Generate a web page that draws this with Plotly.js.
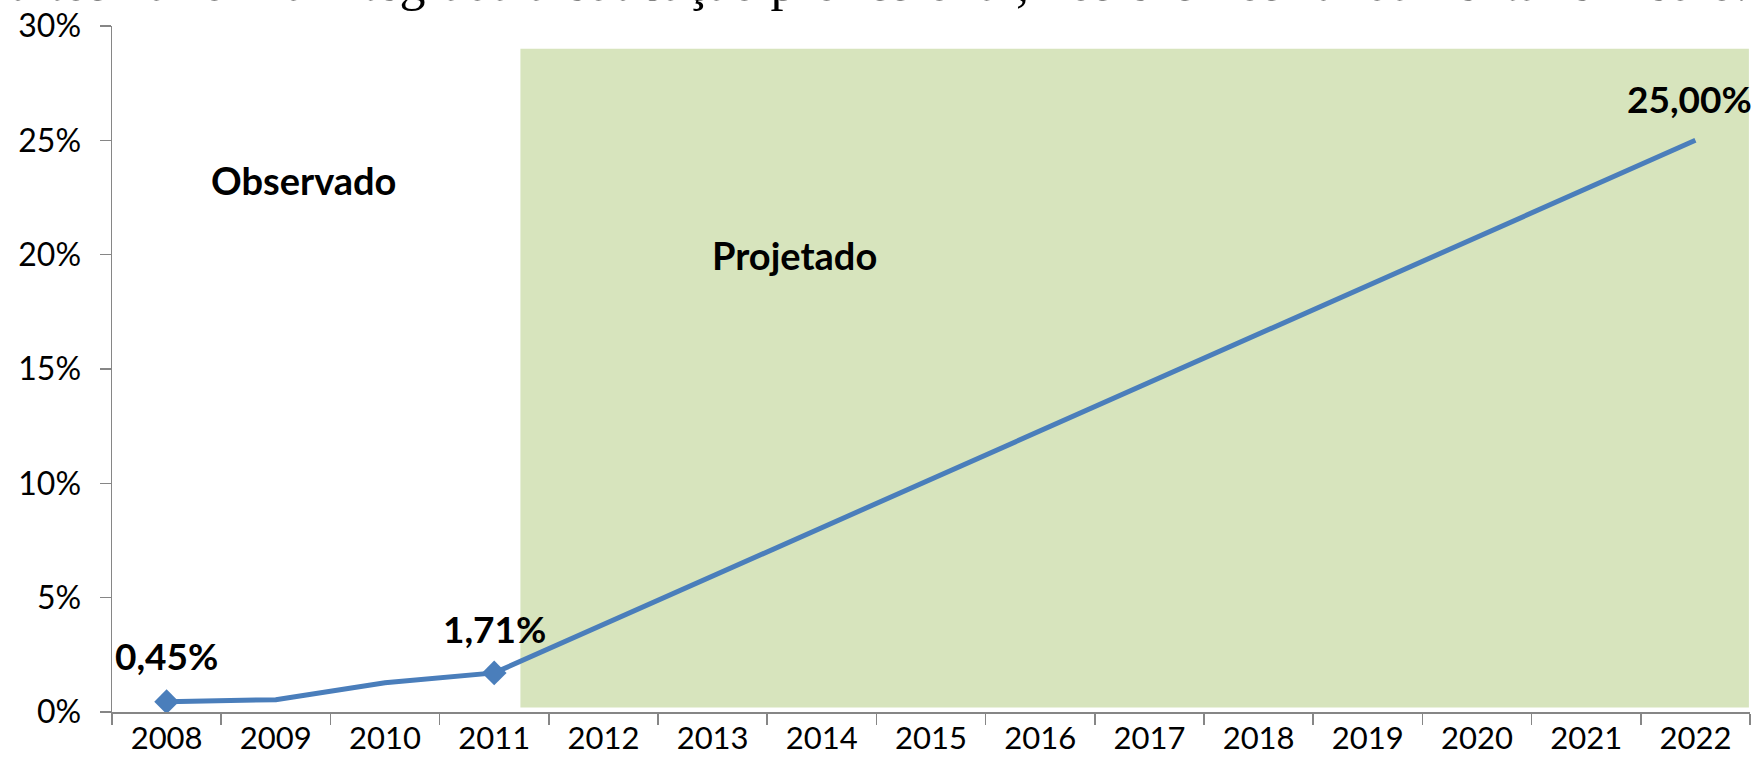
<!DOCTYPE html>
<html>
<head>
<meta charset="utf-8">
<script src="https://cdn.plot.ly/plotly-3.0.1.min.js"></script>
<style>
	html, body { margin: 0; padding: 0; background: #fff; }
	#chart { width: 1755px; height: 774px; }
</style>
</head>
<body>
<div id="chart"></div>
<script>
// anos e percentuais (observado 2008-2011, meta 2022)
const years = ['2008', '2009', '2010', '2011', '2012', '2013', '2014', '2015',
	'2016', '2017', '2018', '2019', '2020', '2021', '2022'];
const share = [0.45, 0.54, 1.28, 1.71, null, null, null, null,
	null, null, null, null, null, null, 25.0];
const labelled = ['2008', '2011', '2022'];
const markedYears = ['2008', '2011'];
const regionNames = ['Observado', 'Projetado'];
const yTicks = [0, 5, 10, 15, 20, 25, 30];

const blue = '#4A7EBB';
const axisGray = '#868686';
const font = 'Lato, "Open Sans", sans-serif';

const fmt = v => v.toFixed(2).replace('.', ',') + '%';

const line = {
	x: years,
	y: share,
	type: 'scatter',
	mode: 'lines',
	connectgaps: true,
	line: {color: blue, width: 5},
	hoverinfo: 'skip'
};

const marks = {
	x: markedYears,
	y: markedYears.map(yr => share[years.indexOf(yr)]),
	type: 'scatter',
	mode: 'markers',
	marker: {symbol: 'diamond', size: 19, color: blue},
	hoverinfo: 'skip'
};

// label offsets (in category / percent units) relative to the point
const labelOffset = {
	'2008': [0, 2.0],
	'2011': [0, 1.92],
	'2022': [-0.05, 1.83]
};

const annotations = labelled.map(yr => {
	const i = years.indexOf(yr);
	return {
		x: i + labelOffset[yr][0],
		y: share[i] + labelOffset[yr][1],
		xref: 'x', yref: 'y',
		text: '<b>' + fmt(share[i]) + '</b>',
		showarrow: false,
		xanchor: 'center', yanchor: 'middle',
		font: {family: font, size: 37, color: '#000'}
	};
});

annotations.push({
	x: 1.25, y: 23.26, xref: 'x', yref: 'y',
	text: '<b>' + regionNames[0] + '</b>', showarrow: false,
	xanchor: 'center', yanchor: 'middle',
	font: {family: font, size: 38, color: '#000'}
});
annotations.push({
	x: 5.75, y: 20.0, xref: 'x', yref: 'y',
	text: '<b>' + regionNames[1] + '</b>', showarrow: false,
	xanchor: 'center', yanchor: 'middle',
	font: {family: font, size: 38, color: '#000'}
});

// trecho do texto do documento, cortado no topo
annotations.push({
	x: 1.0, y: 1.0185, xref: 'paper', yref: 'paper',
	text: 'adultos na forma integrada à educação profissional, nos ensinos fundamental e médio.',
	showarrow: false,
	xanchor: 'right', yanchor: 'bottom',
	font: {family: '"Liberation Serif", "Times New Roman", serif', size: 52, color: '#000'}
});

const layout = {
	width: 1755,
	height: 774,
	margin: {l: 112, r: 5, t: 26, b: 62},
	paper_bgcolor: '#fff',
	plot_bgcolor: 'rgba(0,0,0,0)',
	showlegend: false,
	font: {family: font, color: '#000'},
	xaxis: {
		type: 'category',
		range: [-0.5, 14.5],
		tickson: 'boundaries',
		ticks: 'outside',
		ticklen: 11,
		tickwidth: 1.5,
		tickcolor: axisGray,
		ticklabelstandoff: -2,
		showline: true,
		linecolor: axisGray,
		linewidth: 1.5,
		showgrid: false,
		zeroline: false,
		tickfont: {family: font, size: 31, color: '#000'}
	},
	yaxis: {
		range: [0, 30],
		tickvals: yTicks,
		ticktext: yTicks.map(v => v + '%'),
		ticks: 'outside',
		ticklen: 11,
		tickwidth: 1.5,
		tickcolor: axisGray,
		ticklabelstandoff: 12,
		showline: true,
		linecolor: axisGray,
		linewidth: 1.5,
		showgrid: false,
		zeroline: false,
		tickfont: {family: font, size: 32, color: '#000'}
	},
	shapes: [{
		type: 'rect',
		xref: 'x', yref: 'y',
		x0: 3.24, x1: 14.49, y0: 0.2, y1: 29.0,
		fillcolor: '#D7E4BD',
		line: {width: 0},
		layer: 'below'
	}],
	annotations: annotations
};

Plotly.newPlot('chart', [line, marks], layout, {staticPlot: true});
</script>
</body>
</html>
